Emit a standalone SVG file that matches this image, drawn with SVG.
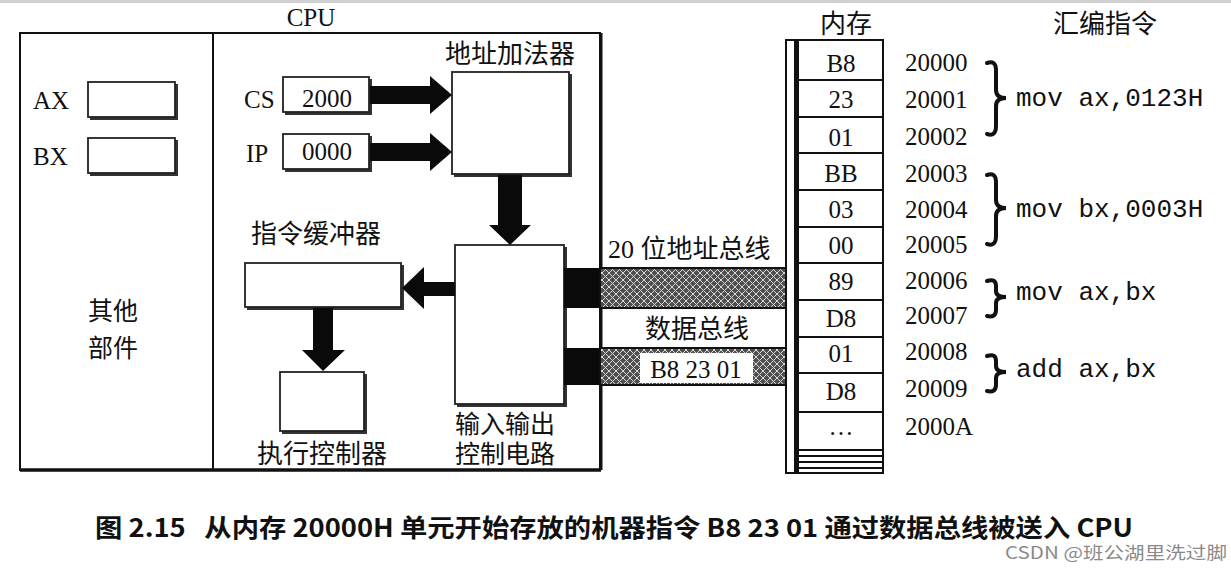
<svg xmlns="http://www.w3.org/2000/svg" width="1231" height="570" viewBox="0 0 1231 570">
<style>
.t{font-family:"Liberation Serif","Noto Sans CJK SC",serif;font-size:25px;fill:#111}
.k{font-size:26px}
.c{text-anchor:middle}
.m{font-family:"Liberation Mono",monospace;font-size:26px;fill:#111}
.box{fill:#fff;stroke:#222;stroke-width:1.8}
.sh{fill:#333}
.ar{fill:#0a0a0a}
.ln{stroke:#111;fill:none}
.br{stroke:#111;stroke-width:4;fill:none;stroke-linecap:round}
</style>
<defs>
<pattern id="hatch" width="7" height="7" patternUnits="userSpaceOnUse">
<rect width="7" height="7" fill="#505050"/>
<path d="M0 0 L7 7 M7 0 L0 7" stroke="#d8d8d8" stroke-width="1"/>
</pattern>
</defs>
<rect width="1231" height="570" fill="#fff"/>
<rect x="0" y="0" width="1231" height="3" fill="#d0d0d0"/>

<g id="cpu">
<rect x="20" y="33" width="580" height="437" class="ln" stroke-width="2"/>
<line x1="20" y1="470" x2="601" y2="470" class="ln" stroke-width="3.5"/>
<line x1="601" y1="33" x2="601" y2="470" class="ln" stroke-width="3"/>
<line x1="213" y1="33" x2="213" y2="470" class="ln" stroke-width="2"/>
<text class="t c" x="311" y="26">CPU</text>
</g>

<g id="other">
<text class="t" x="88" y="320">其他</text>
<text class="t" x="88" y="357">部件</text>
</g>

<g id="ax">
<rect x="90" y="84" width="88" height="36" class="sh"/>
<rect x="88" y="82" width="87" height="35" class="box"/>
<text class="t" x="33" y="109">AX</text>
</g>
<g id="bx">
<rect x="90" y="140" width="88" height="36" class="sh"/>
<rect x="88" y="138" width="87" height="35" class="box"/>
<text class="t" x="33" y="165">BX</text>
</g>

<g id="cs">
<rect x="285" y="79" width="87" height="36" class="sh"/>
<rect x="283" y="77" width="86" height="35" class="box"/>
<text class="t" x="244" y="108">CS</text>
<text class="t c" x="327" y="107">2000</text>
</g>
<g id="ip">
<rect x="285" y="136" width="87" height="36" class="sh"/>
<rect x="283" y="134" width="86" height="35" class="box"/>
<text class="t" x="246" y="162">IP</text>
<text class="t c" x="327" y="160">0000</text>
</g>

<g id="adder">
<rect x="454" y="74" width="118" height="103" class="sh"/>
<rect x="452" y="72" width="117" height="102" class="box"/>
<text class="t k" x="445" y="63">地址加法器</text>
</g>

<g id="io">
<rect x="457" y="247" width="110" height="160" class="sh"/>
<rect x="455" y="245" width="109" height="159" class="box"/>
<text class="t" x="455" y="433">输入输出</text>
<text class="t" x="455" y="463">控制电路</text>
</g>

<g id="buffer">
<rect x="247" y="265" width="157" height="45" class="sh"/>
<rect x="245" y="263" width="156" height="44" class="box"/>
<text class="t k" x="251" y="243">指令缓冲器</text>
</g>

<g id="exec">
<rect x="282" y="374" width="85" height="60" class="sh"/>
<rect x="280" y="372" width="84" height="59" class="box"/>
<text class="t k" x="257" y="463">执行控制器</text>
</g>

<g id="connectors">
<polygon class="ar" points="370,86 430,86 430,76 452,95 430,114 430,104 370,104"/>
<polygon class="ar" points="370,143 430,143 430,133 452,152 430,171 430,161 370,161"/>
<polygon class="ar" points="498,175 522,175 522,225 531,225 510,245 489,225 498,225"/>
<polygon class="ar" points="455,282 424,282 424,267 402,288 424,309 424,296 455,296"/>
<polygon class="ar" points="313,308 333,308 333,350 345,350 323,371 302,350 313,350"/>
<rect class="ar" x="564" y="268" width="35" height="40"/>
<rect class="ar" x="564" y="348" width="35" height="37"/>
</g>

<g id="address-bus">
<rect x="601" y="268" width="184" height="40" fill="url(#hatch)"/>
<line x1="601" y1="268" x2="785" y2="268" class="ln" stroke-width="2"/>
<line x1="601" y1="308" x2="785" y2="308" class="ln" stroke-width="2"/>
<text class="t k" x="608" y="258">20 位地址总线</text>
</g>

<g id="data-bus">
<rect x="601" y="348" width="184" height="37" fill="url(#hatch)"/>
<line x1="601" y1="348" x2="785" y2="348" class="ln" stroke-width="2"/>
<line x1="601" y1="385" x2="785" y2="385" class="ln" stroke-width="2"/>
<rect x="640" y="353" width="113" height="30" fill="#fff"/>
<text class="t c" x="696" y="378">B8 23 01</text>
<text class="t k" x="645" y="338">数据总线</text>
</g>

<g id="memory">
<text class="t k" x="820" y="33">内存</text>
<line x1="786" y1="40" x2="786" y2="473" class="ln" stroke-width="2"/>
<rect x="794" y="40" width="5" height="433" fill="#111"/>
<rect x="786" y="40" width="97" height="433" class="ln" stroke-width="2"/>
<g class="ln" stroke-width="2">
<line x1="799" y1="80" x2="883" y2="80"/>
<line x1="799" y1="117" x2="883" y2="117"/>
<line x1="799" y1="153" x2="883" y2="153"/>
<line x1="799" y1="190" x2="883" y2="190"/>
<line x1="799" y1="227" x2="883" y2="227"/>
<line x1="799" y1="263" x2="883" y2="263"/>
<line x1="799" y1="300" x2="883" y2="300"/>
<line x1="799" y1="337" x2="883" y2="337"/>
<line x1="799" y1="373" x2="883" y2="373"/>
<line x1="799" y1="412" x2="883" y2="412"/>
<line x1="799" y1="450" x2="883" y2="450"/>
<line x1="799" y1="456" x2="883" y2="456"/>
<line x1="799" y1="462" x2="883" y2="462"/>
<line x1="799" y1="468" x2="883" y2="468"/>
</g>
<text class="t c" x="841" y="72">B8</text>
<text class="t c" x="841" y="108">23</text>
<text class="t c" x="841" y="146">01</text>
<text class="t c" x="841" y="182">BB</text>
<text class="t c" x="841" y="218">03</text>
<text class="t c" x="841" y="254">00</text>
<text class="t c" x="841" y="290">89</text>
<text class="t c" x="841" y="327">D8</text>
<text class="t c" x="841" y="362">01</text>
<text class="t c" x="841" y="400">D8</text>
<text class="t c" x="841" y="435">…</text>
</g>

<g id="addresses">
<text class="t" x="905" y="71">20000</text>
<text class="t" x="905" y="108">20001</text>
<text class="t" x="905" y="145">20002</text>
<text class="t" x="905" y="182">20003</text>
<text class="t" x="905" y="218">20004</text>
<text class="t" x="905" y="253">20005</text>
<text class="t" x="905" y="289">20006</text>
<text class="t" x="905" y="324">20007</text>
<text class="t" x="905" y="360">20008</text>
<text class="t" x="905" y="397">20009</text>
<text class="t" x="905" y="435">2000A</text>
</g>

<g id="asm">
<text class="t k" x="1053" y="33">汇编指令</text>
<path class="br" d="M987 63 Q996 60 996 70 L996 90 Q996 98 1006 98 Q996 98 996 106 L996 126 Q996 137 987 134"/>
<path class="br" d="M987 175 Q996 172 996 182 L996 200 Q996 208 1006 208 Q996 208 996 216 L996 236 Q996 247 987 244"/>
<path class="br" d="M987 281 Q996 278 996 286 L996 291 Q996 297 1006 297 Q996 297 996 303 L996 310 Q996 318 987 316"/>
<path class="br" d="M987 356 Q996 353 996 361 L996 366 Q996 372 1006 372 Q996 372 996 378 L996 385 Q996 393 987 391"/>
<text class="m" x="1016" y="106">mov ax,0123H</text>
<text class="m" x="1016" y="217">mov bx,0003H</text>
<text class="m" x="1016" y="300">mov ax,bx</text>
<text class="m" x="1016" y="377">add ax,bx</text>
</g>

<text x="95" y="537" xml:space="preserve" style="white-space:pre" font-family="'Noto Sans CJK SC',sans-serif" font-weight="bold" font-size="25" fill="#111" textLength="1038" lengthAdjust="spacingAndGlyphs">图 2.15   从内存 20000H 单元开始存放的机器指令 B8 23 01 通过数据总线被送入 CPU</text>
<text x="1005" y="559" font-family="'Noto Sans CJK SC',sans-serif" font-size="17" fill="#8a8a8a" textLength="222" lengthAdjust="spacingAndGlyphs">CSDN @班公湖里洗过脚</text>
</svg>
